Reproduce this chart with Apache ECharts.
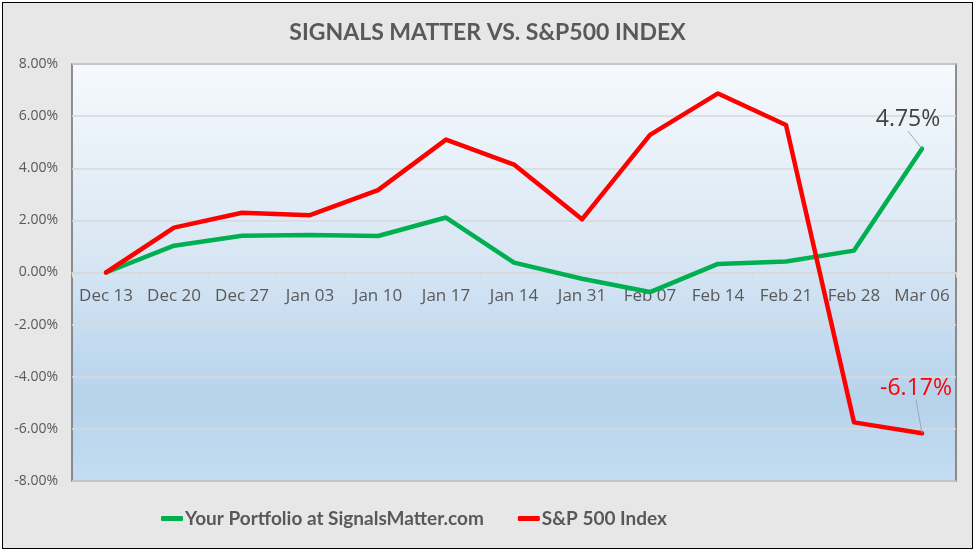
<!DOCTYPE html>
<html>
<head>
<meta charset="utf-8">
<script src="https://cdn.jsdelivr.net/npm/echarts@6/dist/echarts.min.js"></script>
<style>
html,body{margin:0;padding:0;background:#ffffff;}
#frame{position:absolute;left:2px;top:2px;width:969px;height:545px;border:1.5px solid #000;background:#e7e7e7;}
#chart{width:969px;height:545px;}
</style>
</head>
<body>
<div id="frame"><div id="chart"></div></div>
<script>
const categories = ['Dec 13','Dec 20','Dec 27','Jan 03','Jan 10','Jan 17','Jan 14','Jan 31','Feb 07','Feb 14','Feb 21','Feb 28','Mar 06'];
const portfolio = [0, 1.03, 1.41, 1.44, 1.40, 2.11, 0.38, -0.24, -0.75, 0.33, 0.42, 0.84, 4.75];
const sp500 = [0, 1.72, 2.29, 2.20, 3.16, 5.10, 4.14, 2.04, 5.28, 6.87, 5.66, -5.75, -6.17];
const yTicks = [-8, -6, -4, -2, 0, 2, 4, 6, 8];
const titleText = 'SIGNALS MATTER VS. S&P500 INDEX';
const names = ['Your Portfolio at SignalsMatter.com', 'S&P 500 Index'];

const gridTop = 61, gridBottom = 67, chartH = 545;
const gridH = chartH - gridTop - gridBottom;
const zeroOffset = gridH * (0 - yTicks[0]) / (yTicks[yTicks.length - 1] - yTicks[0]);

function withEndLabel(arr, color) {
  return arr.map((v, i) => {
    if (i !== arr.length - 1) return v;
    return {
      value: v,
      label: {
        show: true,
        position: 'top',
        distance: 5,
        formatter: v.toFixed(2) + '%',
        color: color,
        fontSize: 23,
        fontFamily: 'Open Sans'
      }
    };
  });
}

function endLayout(dx, dy) {
  return function (params) {
    if (params.dataIndex === categories.length - 1) return { dx: dx, dy: dy };
    return {};
  };
}

const chart = echarts.init(document.getElementById('chart'), null, { renderer: 'canvas' });
chart.setOption({
  animation: false,
  backgroundColor: '#e7e7e7',
  title: {
    text: titleText,
    left: 'center',
    top: 13,
    textStyle: { fontFamily: 'Lato', fontWeight: 'bold', fontSize: 23, color: '#595959' }
  },
  legend: {
    bottom: 15,
    left: 153,
    itemGap: 34,
    itemWidth: 22,
    itemHeight: 5,
    icon: 'roundRect',
    textStyle: { fontFamily: 'Lato', fontWeight: 'bold', fontSize: 19, color: '#595959', padding: [0, 0, 0, -3] },
    data: names
  },
  grid: {
    left: 69, right: 16, top: gridTop, bottom: gridBottom,
    show: true,
    borderColor: '#6f6f6f',
    borderWidth: 1.5,
    backgroundColor: {
      type: 'linear', x: 0, y: 0, x2: 0, y2: 1,
      colorStops: [
        { offset: 0, color: '#f6f9fd' },
        { offset: 0.45, color: '#d9e7f4' },
        { offset: 0.8, color: '#b6d3ec' },
        { offset: 1, color: '#c4dcf0' }
      ]
    }
  },
  xAxis: {
    type: 'category',
    data: categories,
    boundaryGap: true,
    position: 'bottom',
    offset: -zeroOffset,
    axisLine: { onZero: false, lineStyle: { color: '#d9d9d9', width: 1.5 } },
    axisTick: { show: true, length: 5, lineStyle: { color: '#d9d9d9' } },
    axisLabel: { color: '#595959', fontSize: 17, fontFamily: 'Open Sans', margin: 15, interval: 0 }
  },
  yAxis: {
    type: 'value',
    min: yTicks[0], max: yTicks[yTicks.length - 1], interval: 2,
    axisLine: { show: false },
    axisTick: { show: false },
    splitLine: { lineStyle: { color: '#d9d9d9', width: 1.5 } },
    axisLabel: {
      color: '#595959', fontSize: 14, fontFamily: 'Open Sans', margin: 14,
      formatter: v => v.toFixed(2) + '%'
    }
  },
  series: [
    {
      name: names[0],
      type: 'line',
      data: withEndLabel(portfolio, '#404040'),
      showSymbol: true,
      symbol: 'circle',
      symbolSize: 1,
      color: '#00b050',
      itemStyle: { color: '#00b050' },
      lineStyle: { color: '#00b050', width: 4.5, cap: 'round', join: 'round' },
      labelLayout: endLayout(-14, -12),
      labelLine: { show: true, lineStyle: { color: '#a6a6a6', width: 1 } },
      z: 2
    },
    {
      name: names[1],
      type: 'line',
      data: withEndLabel(sp500, '#ff0000'),
      showSymbol: true,
      symbol: 'circle',
      symbolSize: 1,
      color: '#ff0000',
      itemStyle: { color: '#ff0000' },
      lineStyle: { color: '#ff0000', width: 4.5, cap: 'round', join: 'round' },
      labelLayout: endLayout(-6, -28),
      labelLine: { show: true, lineStyle: { color: '#a6a6a6', width: 1 } },
      z: 3
    }
  ]
});
</script>
</body>
</html>
